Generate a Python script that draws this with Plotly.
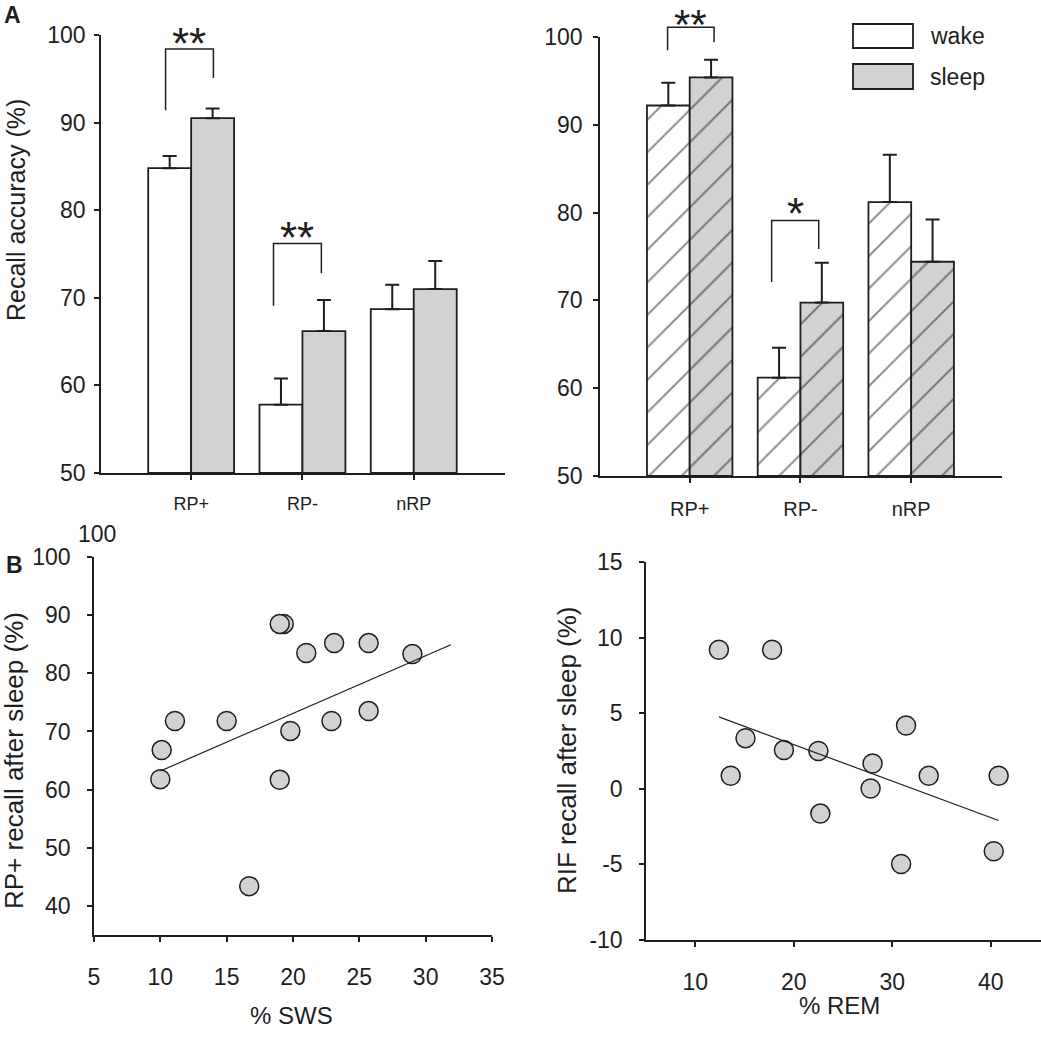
import plotly.graph_objects as go

# ---------------- data ----------------
categories = ["RP+", "RP-", "nRP"]

left_wake = [84.8, 57.8, 68.7]
left_wake_err = [1.4, 3.0, 2.8]
left_sleep = [90.5, 66.2, 71.0]
left_sleep_err = [1.1, 3.55, 3.2]

right_wake = [92.2, 61.2, 81.2]
right_wake_err = [2.6, 3.4, 5.4]
right_sleep = [95.4, 69.75, 74.4]
right_sleep_err = [2.0, 4.55, 4.8]

sws_x = [10.0, 10.1, 11.1, 15.0, 16.7, 19.3, 19.0, 19.0, 19.8, 21.0, 23.1, 22.9, 25.7, 25.7, 29.0]
sws_y = [61.8, 66.8, 71.8, 71.8, 43.4, 88.5, 88.5, 61.7, 70.1, 83.5, 85.2, 71.8, 85.2, 73.5, 83.3]
sws_fit_x = [10.0, 31.9]
sws_fit_y = [63.2, 84.9]

rem_x = [12.4, 17.8, 15.1, 13.6, 19.0, 22.5, 22.7, 28.0, 27.8, 31.4, 30.9, 33.7, 40.8, 40.3]
rem_y = [9.2, 9.2, 3.35, 0.86, 2.56, 2.5, -1.64, 1.67, 0.02, 4.19, -4.97, 0.86, 0.86, -4.13]
rem_fit_x = [12.4, 40.8]
rem_fit_y = [4.76, -2.10]

bar_yticks = [50, 60, 70, 80, 90, 100]
sws_xticks = [5, 10, 15, 20, 25, 30, 35]
sws_yticks = [40, 50, 60, 70, 80, 90, 100]
rem_xticks = [10, 20, 30, 40]
rem_yticks = [-10, -5, 0, 5, 10, 15]
rem_ytick_text = ["-10", "-5", "0", "5", "10", "15"]

# significance brackets: (axis suffix, x_left, x_right, y_left_bottom, y_right_bottom, y_top, label, star_y)
# star_y None -> star placed at the very top edge of the figure
brackets = [
    ("", -0.23, 0.20, 91.4, 95.1, 98.4, "**", 100.0),
    ("", 0.74, 1.17, 69.1, 72.8, 76.2, "**", 77.9),
    ("2", -0.20, 0.22, 98.5, 99.4, 101.1, "**", None),
    ("2", 0.74, 1.165, 72.1, 75.85, 79.1, "*", 80.9),
]

# ---------------- style ----------------
INK = "#1e1e1e"
GREY = "#d2d2d2"
FONT = "Liberation Sans, Arial, Helvetica, sans-serif"
W, H = 1041, 1050
BAR_RANGE = [-0.81, 2.82]
BAR_Y = [50, 100]


def px_x(p):
    return p / W


def px_y(p):
    return 1 - p / H


fig = go.Figure()

err_style = dict(type="data", symmetric=False, color=INK, thickness=2, width=7)


def bar(name, y, err, color, xa, ya, hatch):
    m = dict(color=color, line=dict(color=INK, width=1.8))
    if hatch:
        m["pattern"] = dict(shape="/", fgcolor=INK, bgcolor=color, size=23, solidity=0.09)
    fig.add_trace(go.Bar(
        x=categories, y=[v - BAR_Y[0] for v in y], base=BAR_Y[0], name=name,
        marker=m, xaxis=xa, yaxis=ya, showlegend=False,
        error_y=dict(array=err, arrayminus=[0] * len(err), **err_style),
    ))


bar("wake", left_wake, left_wake_err, "white", "x", "y", False)
bar("sleep", left_sleep, left_sleep_err, GREY, "x", "y", False)
bar("wake", right_wake, right_wake_err, "white", "x2", "y2", True)
bar("sleep", right_sleep, right_sleep_err, GREY, "x2", "y2", True)

marker_style = dict(size=19, color=GREY, line=dict(color=INK, width=1.5))
fig.add_trace(go.Scatter(x=sws_x, y=sws_y, mode="markers", marker=marker_style,
                         xaxis="x3", yaxis="y3", showlegend=False))
fig.add_trace(go.Scatter(x=sws_fit_x, y=sws_fit_y, mode="lines", line=dict(color=INK, width=1.2),
                         xaxis="x3", yaxis="y3", showlegend=False))
fig.add_trace(go.Scatter(x=rem_x, y=rem_y, mode="markers", marker=marker_style,
                         xaxis="x4", yaxis="y4", showlegend=False))
fig.add_trace(go.Scatter(x=rem_fit_x, y=rem_fit_y, mode="lines", line=dict(color=INK, width=1.2),
                         xaxis="x4", yaxis="y4", showlegend=False))

axis_common = dict(showline=True, linecolor=INK, linewidth=1.5, ticks="outside", ticklen=5,
                   tickwidth=1.5, tickcolor=INK, showgrid=False, zeroline=False, automargin=False)

fig.update_layout(
    width=W, height=H, margin=dict(l=0, r=0, t=0, b=0, autoexpand=False),
    plot_bgcolor="white", paper_bgcolor="white",
    font=dict(family=FONT, color=INK, size=22),
    barmode="group", bargap=0.228, bargroupgap=0,
    xaxis=dict(domain=[px_x(101), px_x(505)], range=BAR_RANGE, anchor="y", type="category",
               tickfont=dict(size=18), ticklabelstandoff=9, **axis_common),
    yaxis=dict(domain=[px_y(473), px_y(35)], range=BAR_Y, anchor="x", tickvals=bar_yticks,
               tickfont=dict(size=23), ticklabelstandoff=4, **axis_common),
    xaxis2=dict(domain=[px_x(600), px_x(1002)], range=BAR_RANGE, anchor="y2", type="category",
                tickfont=dict(size=20), ticklabelstandoff=9, **axis_common),
    yaxis2=dict(domain=[px_y(476), px_y(37)], range=BAR_Y, anchor="x2", tickvals=bar_yticks,
                tickfont=dict(size=23), ticklabelstandoff=6, **axis_common),
    xaxis3=dict(domain=[px_x(94), px_x(492)], range=[5, 35], anchor="y3", tickvals=sws_xticks,
                tickfont=dict(size=23), ticklabelstandoff=16, **axis_common),
    yaxis3=dict(domain=[px_y(935), px_y(557)], range=[35, 100], anchor="x3",
                tickvals=sws_yticks, tickfont=dict(size=23), ticklabelstandoff=12,
                **axis_common),
    xaxis4=dict(domain=[px_x(646), 1.0], range=[5, 45.1], anchor="y4", tickvals=rem_xticks,
                tickfont=dict(size=23), ticklabelstandoff=16, **axis_common),
    yaxis4=dict(domain=[px_y(940), px_y(562)], range=[-10, 15], anchor="x4",
                tickvals=rem_yticks, ticktext=rem_ytick_text, tickfont=dict(size=23),
                ticklabelstandoff=12, **axis_common),
)


def xd(v):
    return (v - BAR_RANGE[0]) / (BAR_RANGE[1] - BAR_RANGE[0])


def yd(v):
    return (v - BAR_Y[0]) / (BAR_Y[1] - BAR_Y[0])


shapes = []
annotations = []
for suf, xl, xr, ybl, ybr, yt, label, sy in brackets:
    ref = dict(xref=f"x{suf} domain", yref=f"y{suf} domain")
    path = f"M{xd(xl)},{yd(ybl)} L{xd(xl)},{yd(yt)} L{xd(xr)},{yd(yt)} L{xd(xr)},{yd(ybr)}"
    shapes.append(dict(type="path", path=path, line=dict(color=INK, width=1.5), **ref))
    if sy is None:
        annotations.append(dict(text=label, x=xd((xl + xr) / 2), xref=f"x{suf} domain",
                                y=1.0, yref="paper", showarrow=False, borderpad=0,
                                font=dict(size=42, color=INK), xanchor="center", yanchor="top"))
    else:
        annotations.append(dict(text=label, x=xd((xl + xr) / 2), y=yd(sy), showarrow=False,
                                font=dict(size=44, color=INK), xanchor="center", yanchor="middle",
                                yshift=-9, **ref))

# legend boxes
shapes.append(dict(type="rect", xref="paper", yref="paper", x0=px_x(853), x1=px_x(913), y0=px_y(48), y1=px_y(24),
                   line=dict(color=INK, width=1.8), fillcolor="white"))
shapes.append(dict(type="rect", xref="paper", yref="paper", x0=px_x(853), x1=px_x(913), y0=px_y(89), y1=px_y(64),
                   line=dict(color=INK, width=1.8), fillcolor=GREY))


def ann(text, x, y, size, **kw):
    d = dict(text=text, x=px_x(x), y=px_y(y), xref="paper", yref="paper", showarrow=False,
             font=dict(size=size, color=INK, family=FONT))
    d.update(kw)
    annotations.append(d)


ann("wake", 928, 36, 23, xanchor="left", yanchor="middle")
ann("sleep", 928, 77, 23, xanchor="left", yanchor="middle")
ann("<b>A</b>", 12, 15, 23, xanchor="center", yanchor="middle")
ann("<b>B</b>", 14, 565, 23, xanchor="center", yanchor="middle")
ann("100", 97, 534, 23, xanchor="center", yanchor="middle")
ann("Recall accuracy (%)", 16, 210, 25, textangle=-90, xanchor="center", yanchor="middle")
ann("RP+ recall after sleep (%)", 14, 761, 26, textangle=-90, xanchor="center", yanchor="middle")
ann("RIF recall after sleep (%)", 567, 750, 26, textangle=-90, xanchor="center", yanchor="middle")
ann("% SWS", 291, 1015, 24, xanchor="center", yanchor="middle")
ann("% REM", 839, 1005, 24, xanchor="center", yanchor="middle")

fig.update_layout(shapes=shapes, annotations=annotations)

fig.write_html("out.html", config={"displayModeBar": False},
               post_script="document.body.style.margin='0';")
